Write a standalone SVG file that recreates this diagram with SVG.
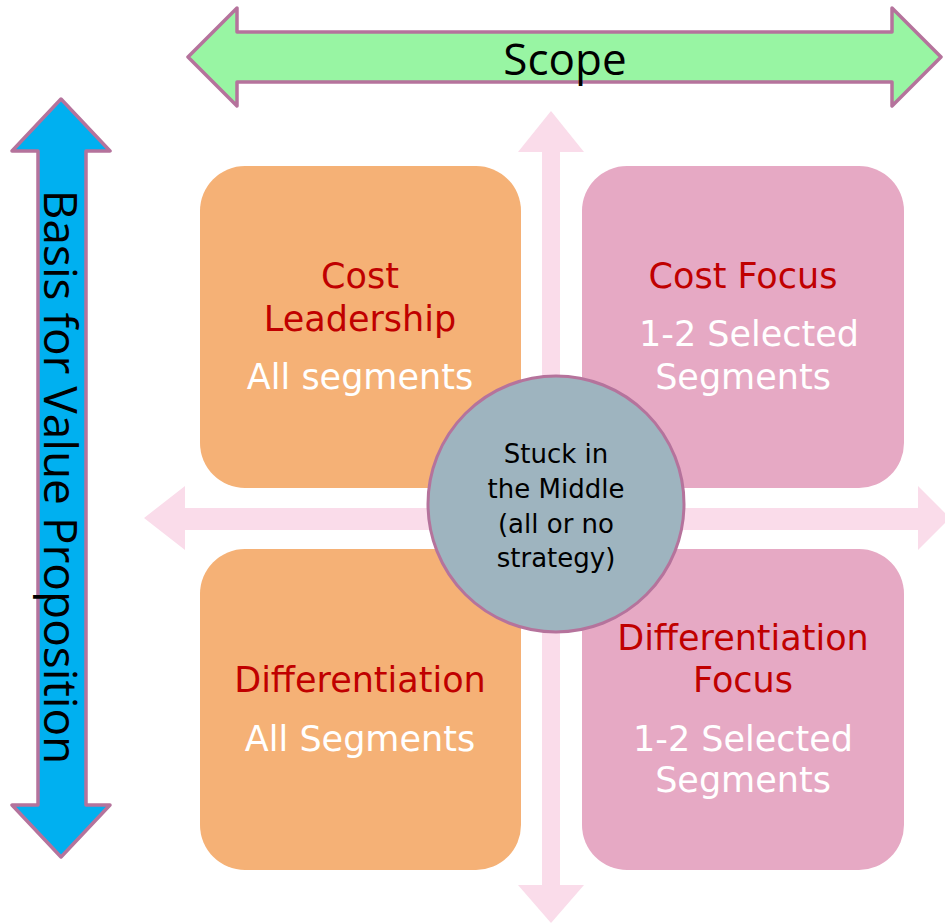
<svg xmlns="http://www.w3.org/2000/svg" width="945" height="924" viewBox="0 0 945 924">
<style>
.axis{stroke:#B5739C;stroke-width:3.5;stroke-linejoin:round}
.cross{fill:#FADCEA}
.orange{fill:#F5B176}
.pink{fill:#E6A9C4}
.t{font-family:"DejaVu Sans",sans-serif;font-size:35px;text-anchor:middle}
.red{fill:#C00000}
.white{fill:#FFFFFF}
.c{font-family:"DejaVu Sans",sans-serif;font-size:26px;text-anchor:middle;fill:#000}
</style>
<rect width="945" height="924" fill="#FFFFFF"/>
<g id="connectors">
  <polygon class="cross" points="144,518 185,486 185,508 918,508 918,486 950,518 918,550 918,530 185,530 185,550"/>
  <polygon class="cross" points="551,111 584,152 560,152 560,885 584,885 551,923 518,885 542,885 542,152 518,152"/>
</g>
<g id="scope">
  <polygon class="axis" fill="#98F5A3" points="188,57 237,8 237,32 892,32 892,8 941,57 892,106 892,82 237,82 237,106"/>
  <text x="565" y="75" font-family="'Open Sans',sans-serif" font-size="44" text-anchor="middle" fill="#000">Scope</text>
</g>
<g id="basis">
  <polygon class="axis" fill="#00B0F0" points="61,99 110,151 86,151 86,805 110,805 61,857 12,805 38,805 38,151 12,151"/>
  <text transform="translate(44,477) rotate(90)" font-family="'Open Sans',sans-serif" font-size="46" text-anchor="middle" fill="#000">Basis for Value Proposition</text>
</g>
<g id="cost-leadership">
  <rect class="orange" x="200" y="166" width="321" height="322" rx="45"/>
  <text class="t red" x="360" y="288">Cost</text>
  <text class="t red" x="360" y="331">Leadership</text>
  <text class="t white" x="360" y="389">All segments</text>
</g>
<g id="cost-focus">
  <rect class="pink" x="582" y="166" width="322" height="322" rx="45"/>
  <text class="t red" x="743" y="288">Cost Focus</text>
  <text class="t white" x="749" y="346">1-2 Selected</text>
  <text class="t white" x="743" y="389">Segments</text>
</g>
<g id="differentiation">
  <rect class="orange" x="200" y="549" width="321" height="321" rx="45"/>
  <text class="t red" x="360" y="692">Differentiation</text>
  <text class="t white" x="360" y="751">All Segments</text>
</g>
<g id="differentiation-focus">
  <rect class="pink" x="582" y="549" width="322" height="321" rx="45"/>
  <text class="t red" x="743" y="650">Differentiation</text>
  <text class="t red" x="743" y="692">Focus</text>
  <text class="t white" x="743" y="751">1-2 Selected</text>
  <text class="t white" x="743" y="792">Segments</text>
</g>
<g id="stuck-in-the-middle">
  <circle cx="556" cy="504" r="128" fill="#9EB4BF" stroke="#B5739C" stroke-width="3"/>
  <text class="c" x="556" y="463">Stuck in</text>
  <text class="c" x="556" y="498">the Middle</text>
  <text class="c" x="556" y="533">(all or no</text>
  <text class="c" x="556" y="567">strategy)</text>
</g>
</svg>
